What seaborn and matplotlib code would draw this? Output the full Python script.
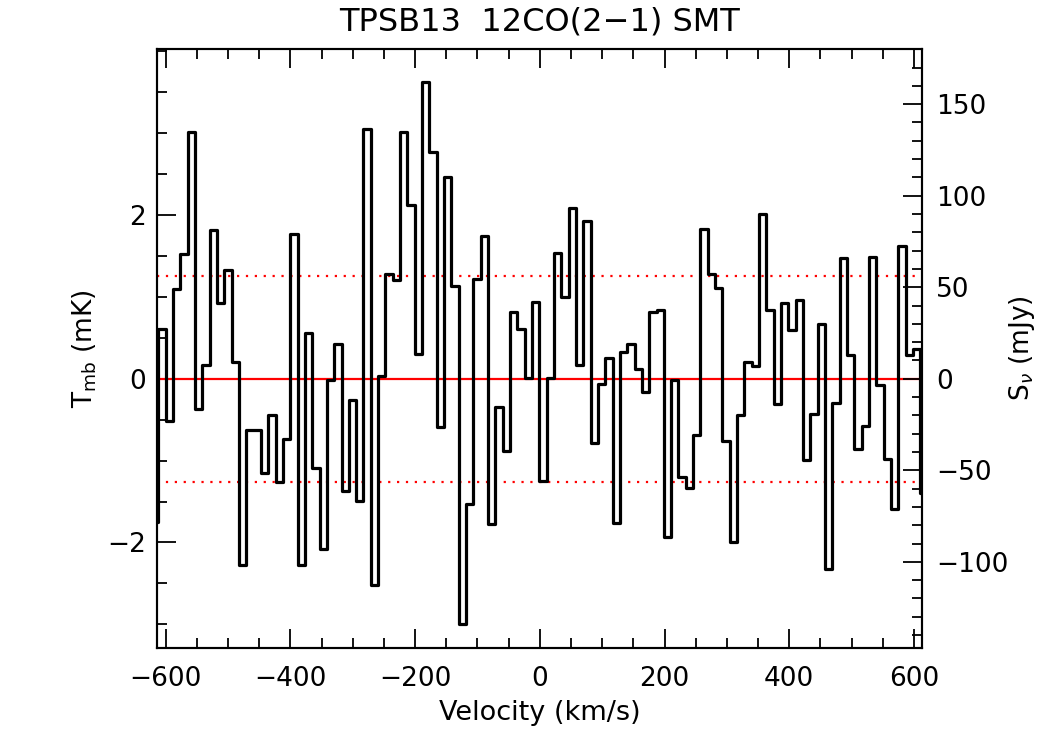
import numpy as np
import pandas as pd
import matplotlib
matplotlib.use("Agg")
import matplotlib.pyplot as plt
from matplotlib.ticker import MultipleLocator, FixedLocator
import seaborn as sns

# ---- data ----
v_start = -617.7        # km/s, centre of first channel
dv = 11.75              # km/s channel width
tmb = [
    -1.75, 0.61, -0.51, 1.10, 1.52, 3.02, -0.37, 0.17, 1.82, 0.92,
    1.33, 0.21, -2.28, -0.62, -0.62, -1.15, -0.44, -1.26, -0.73, 1.77,
    -2.28, 0.56, -1.09, -2.08, -0.01, 0.43, -1.37, -0.26, -1.49, 3.05,
    -2.52, 0.03, 1.28, 1.21, 3.02, 2.12, 0.30, 3.63, 2.77, -0.59,
    2.47, 1.13, -3.00, -1.53, 1.22, 1.75, -1.78, -0.34, -0.88, 0.81,
    0.61, 0.01, 0.94, -1.25, 0.01, 1.54, 1.00, 2.09, 0.17, 1.93,
    -0.79, -0.06, 0.25, -1.76, 0.33, 0.43, 0.12, -0.16, 0.81, 0.84,
    -1.93, -0.02, -1.20, -1.33, -0.69, 1.83, 1.28, 1.11, -0.76, -2.00,
    -0.44, 0.20, 0.16, 2.01, 0.84, -0.31, 0.92, 0.60, 0.96, -0.99,
    -0.43, 0.67, -2.32, -0.29, 1.48, 0.29, -0.86, -0.58, 1.49, -0.07,
    -0.98, -1.59, 1.62, 0.29, 0.37, -1.40,
]
velocity = [v_start + i * dv for i in range(len(tmb))]
rms = 1.26              # mK, dotted lines
jy_per_k = 44.7         # mJy per mK
xlim = (-614, 613)
ylim = (-3.29, 4.03)
ymajor = [-2, 0, 2]
title = "TPSB13  12CO(2\u22121) SMT"

df = pd.DataFrame({"Velocity": velocity, "Tmb": tmb})

sns.set_theme(style="white")
plt.rcParams["font.family"] = ["DejaVu Sans"]
plt.rcParams["text.color"] = "black"
plt.rcParams["axes.labelcolor"] = "black"

fig = plt.figure(figsize=(10.5, 7.5), dpi=100)
ax = fig.add_axes([157/1050, 1-648/750, 765/1050, 599/750])

sns.lineplot(data=df, x="Velocity", y="Tmb", drawstyle="steps-mid",
             color="black", linewidth=2.3, ax=ax, sort=True, estimator=None)

ax.axhline(0, color="red", lw=1.6, zorder=1)
ax.axhline(rms, color="red", lw=1.6, ls=(0, (1, 3)), zorder=1)
ax.axhline(-rms, color="red", lw=1.6, ls=(0, (1, 3)), zorder=1)

ax.set_xlim(*xlim)
ax.set_ylim(*ylim)

ax.xaxis.set_major_locator(MultipleLocator(200))
ax.xaxis.set_minor_locator(MultipleLocator(50))
ax.yaxis.set_major_locator(FixedLocator(ymajor))
ax.yaxis.set_minor_locator(MultipleLocator(0.5))

for sp in ax.spines.values():
    sp.set_linewidth(1.5)
    sp.set_color("black")

ax.tick_params(axis="x", which="both", direction="in", top=True, bottom=True,
               labelsize=19, pad=13, width=1.3, colors="black")
ax.tick_params(axis="y", which="both", direction="in", left=True, right=False,
               labelsize=19, pad=8, width=1.3, colors="black")
ax.tick_params(which="major", length=14)
ax.tick_params(which="minor", length=7)

ax2 = ax.twinx()
ax2.set_ylim(ylim[0]*jy_per_k, ylim[1]*jy_per_k)
ax2.yaxis.set_major_locator(MultipleLocator(50))
ax2.yaxis.set_minor_locator(MultipleLocator(10))
ax2.tick_params(axis="y", which="both", direction="in", right=True, left=False,
                labelsize=19, pad=10, width=1.3, colors="black")
ax2.tick_params(which="major", length=14)
ax2.tick_params(which="minor", length=7)
for sp in ax2.spines.values():
    sp.set_linewidth(1.5)
    sp.set_color("black")
ax2.grid(False)
ax.grid(False)

ax.set_xlabel("Velocity (km/s)", fontsize=19.5, color="black")
ax.set_ylabel(r"T$_{\rm mb}$ (mK)", fontsize=19, color="black")
ax2.set_ylabel(r"S$_{\nu}$ (mJy)", fontsize=19, color="black")
ax.xaxis.set_label_coords(0.5, (648-713)/599)
ax.xaxis.label.set_va("center")
ax.yaxis.set_label_coords((85-157)/765, 0.5)
ax.yaxis.label.set_va("center")
ax2.yaxis.set_label_coords((1022-157)/765, 0.5)
ax2.yaxis.label.set_va("center")
ax2.yaxis.label.set_rotation(90)

fig.text(539.5/1050, 1-22/750, title, ha="center", va="center",
         fontsize=23, color="black")

fig.savefig("out.png", dpi=100, facecolor="white")
